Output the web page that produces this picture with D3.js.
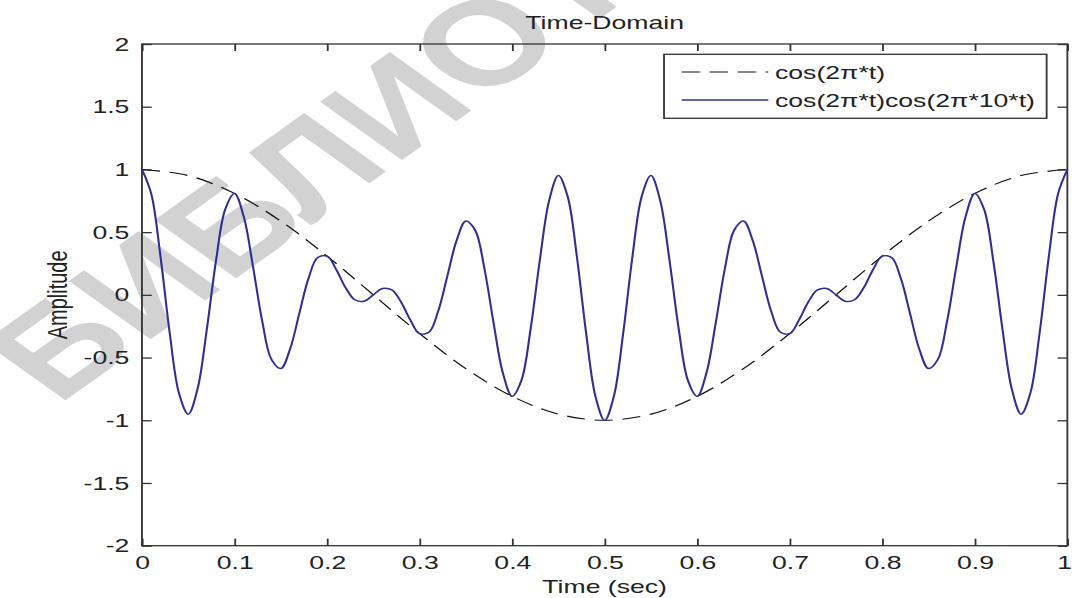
<!DOCTYPE html>
<head>
  <meta charset="utf-8">
  <script src="https://d3js.org/d3.v7.min.js"></script>
  <style>
    body { margin:0; background:#fff; }
    text { font-family: "Liberation Sans", Arial, sans-serif; fill:#222; }
    .box { fill:none; stroke:#333; stroke-width:1.3; }
    .tick line { stroke:#333; stroke-width:1.3; }
    .modulated { fill:none; stroke:#2e2e96; stroke-width:1.5; }
    .envelope { fill:none; stroke:#111; stroke-width:1.1; stroke-dasharray:13,7; }
    .watermark { fill:#d2d2d2; font-weight:bold; }
  </style>
</head>

<body>
  <script>
    // values
    var timeSec = [0, 0.01, 0.02, 0.03, 0.04, 0.05, 0.06, 0.07, 0.08, 0.09,
      0.1, 0.11, 0.12, 0.13, 0.14, 0.15, 0.16, 0.17, 0.18, 0.19,
      0.2, 0.21, 0.22, 0.23, 0.24, 0.25, 0.26, 0.27, 0.28, 0.29,
      0.3, 0.31, 0.32, 0.33, 0.34, 0.35, 0.36, 0.37, 0.38, 0.39,
      0.4, 0.41, 0.42, 0.43, 0.44, 0.45, 0.46, 0.47, 0.48, 0.49,
      0.5, 0.51, 0.52, 0.53, 0.54, 0.55, 0.56, 0.57, 0.58, 0.59,
      0.6, 0.61, 0.62, 0.63, 0.64, 0.65, 0.66, 0.67, 0.68, 0.69,
      0.7, 0.71, 0.72, 0.73, 0.74, 0.75, 0.76, 0.77, 0.78, 0.79,
      0.8, 0.81, 0.82, 0.83, 0.84, 0.85, 0.86, 0.87, 0.88, 0.89,
      0.9, 0.91, 0.92, 0.93, 0.94, 0.95, 0.96, 0.97, 0.98, 0.99, 1];
    var modulated = [1, 0.807, 0.307, -0.304, -0.784, -0.951, -0.752, -0.28, 0.271, 0.683,
      0.809, 0.623, 0.225, -0.212, -0.516, -0.588, -0.433, -0.149, 0.132, 0.298,
      0.309, 0.201, 0.058, -0.039, -0.051, 0, 0.051, 0.039, -0.058, -0.201,
      -0.309, -0.298, -0.132, 0.149, 0.433, 0.588, 0.516, 0.212, -0.225, -0.623,
      -0.809, -0.683, -0.271, 0.28, 0.752, 0.951, 0.784, 0.304, -0.307, -0.807,
      -1, -0.807, -0.307, 0.304, 0.784, 0.951, 0.752, 0.28, -0.271, -0.683,
      -0.809, -0.623, -0.225, 0.212, 0.516, 0.588, 0.433, 0.149, -0.132, -0.298,
      -0.309, -0.201, -0.058, 0.039, 0.051, 0, -0.051, -0.039, 0.058, 0.201,
      0.309, 0.298, 0.132, -0.149, -0.433, -0.588, -0.516, -0.212, 0.225, 0.623,
      0.809, 0.683, 0.271, -0.28, -0.752, -0.951, -0.784, -0.304, 0.307, 0.807, 1];
    var envTime = [0, 0.05, 0.1, 0.15, 0.2, 0.25, 0.3, 0.35, 0.4, 0.45, 0.5,
      0.55, 0.6, 0.65, 0.7, 0.75, 0.8, 0.85, 0.9, 0.95, 1];
    var envelope = [1, 0.951, 0.809, 0.588, 0.309, 0, -0.309, -0.588, -0.809, -0.951, -1,
      -0.951, -0.809, -0.588, -0.309, 0, 0.309, 0.588, 0.809, 0.951, 1];

    var xTicks = [0, 0.1, 0.2, 0.3, 0.4, 0.5, 0.6, 0.7, 0.8, 0.9, 1];
    var xTickLabels = ['0', '0.1', '0.2', '0.3', '0.4', '0.5', '0.6', '0.7', '0.8', '0.9', '1'];
    var yTicks = [-2, -1.5, -1, -0.5, 0, 0.5, 1, 1.5, 2];
    var yTickLabels = ['-2', '-1.5', '-1', '-0.5', '0', '0.5', '1', '1.5', '2'];
    var legendLabels = ['cos(2\u03c0*t)', 'cos(2\u03c0*t)cos(2\u03c0*10*t)'];

    var width = 1072, height = 598;
    var sx = 1.4; // the figure is stretched sideways
    var fs = 19;

    var svg = d3.select('body').append('svg')
      .attr('width', width)
      .attr('height', height);

    var root = svg.append('g').attr('transform', 'scale(' + sx + ',1)');

    var x = d3.scaleLinear().domain([0, 1]).range([101.4, 762.4]);
    var y = d3.scaleLinear().domain([-2, 2]).range([545.7, 44]);

    // watermark behind the plot
    root.append('text')
      .attr('class', 'watermark')
      .attr('transform', 'translate(41,406) rotate(-45)')
      .style('font-size', '120px')
      .text('\u0411\u0418\u0411\u041b\u0418\u041e\u0422\u0415\u041a\u0410');

    function styleAxis(g) {
      g.select('.domain').remove();
      g.attr('font-family', null).attr('font-size', null);
      g.selectAll('text').style('font-size', fs + 'px').attr('fill', '#222');
    }

    root.append('g')
      .attr('transform', 'translate(0,' + y(-2) + ')')
      .call(d3.axisBottom(x).tickValues(xTicks).tickSizeInner(-7).tickSizeOuter(0).tickPadding(10)
        .tickFormat(function(d, i) { return xTickLabels[i]; }))
      .call(styleAxis)
      .call(function(g) { g.selectAll('text').filter(function(d) { return d === 1; }).attr('dx', -2.5); });
    root.append('g')
      .attr('transform', 'translate(0,' + y(2) + ')')
      .call(d3.axisTop(x).tickValues(xTicks).tickSizeInner(-7).tickSizeOuter(0).tickFormat(''))
      .call(styleAxis);
    root.append('g')
      .attr('transform', 'translate(' + x(0) + ',0)')
      .call(d3.axisLeft(y).tickValues(yTicks).tickSizeInner(-7).tickSizeOuter(0).tickPadding(9)
        .tickFormat(function(d, i) { return yTickLabels[i]; }))
      .call(styleAxis);
    root.append('g')
      .attr('transform', 'translate(' + x(1) + ',0)')
      .call(d3.axisRight(y).tickValues(yTicks).tickSizeInner(-7).tickSizeOuter(0).tickFormat(''))
      .call(styleAxis);

    root.append('rect')
      .attr('class', 'box')
      .attr('x', x(0)).attr('y', y(2))
      .attr('width', x(1) - x(0)).attr('height', y(-2) - y(2));

    var line = d3.line()
      .x(function(d) { return x(d[0]); })
      .y(function(d) { return y(d[1]); })
      .curve(d3.curveCatmullRom.alpha(0.5));

    root.append('path')
      .attr('class', 'envelope')
      .attr('d', line(envTime.map(function(t, i) { return [t, envelope[i]]; })));

    root.append('path')
      .attr('class', 'modulated')
      .attr('d', line(timeSec.map(function(t, i) { return [t, modulated[i]]; })));

    // titles
    root.append('text')
      .attr('x', (x(0) + x(1)) / 2).attr('y', 29.5)
      .attr('text-anchor', 'middle')
      .style('font-size', fs + 'px')
      .text('Time-Domain');
    root.append('text')
      .attr('x', (x(0) + x(1)) / 2).attr('y', 593)
      .attr('text-anchor', 'middle')
      .style('font-size', fs + 'px')
      .text('Time (sec)');
    root.append('text')
      .attr('transform', 'translate(48,' + y(0) + ') rotate(-90)')
      .attr('text-anchor', 'middle')
      .style('font-size', '20px')
      .text('Amplitude');

    // legend
    var leg = root.append('g');
    leg.append('rect')
      .attr('x', 474.3).attr('y', 54.3)
      .attr('width', 747.6 - 474.3).attr('height', 118.3 - 54.3)
      .attr('fill', '#fff').attr('stroke', '#333').attr('stroke-width', 1.3);
    var rows = [{cls: 'envelope', y: 72}, {cls: 'modulated', y: 100}];
    rows.forEach(function(r, i) {
      leg.append('line')
        .attr('class', r.cls)
        .attr('x1', 486.9).attr('x2', 548.8)
        .attr('y1', r.y).attr('y2', r.y);
      leg.append('text')
        .attr('x', 553.6).attr('y', r.y)
        .attr('dy', '0.35em')
        .style('font-size', fs + 'px')
        .text(legendLabels[i]);
    });
  </script>
</body>
